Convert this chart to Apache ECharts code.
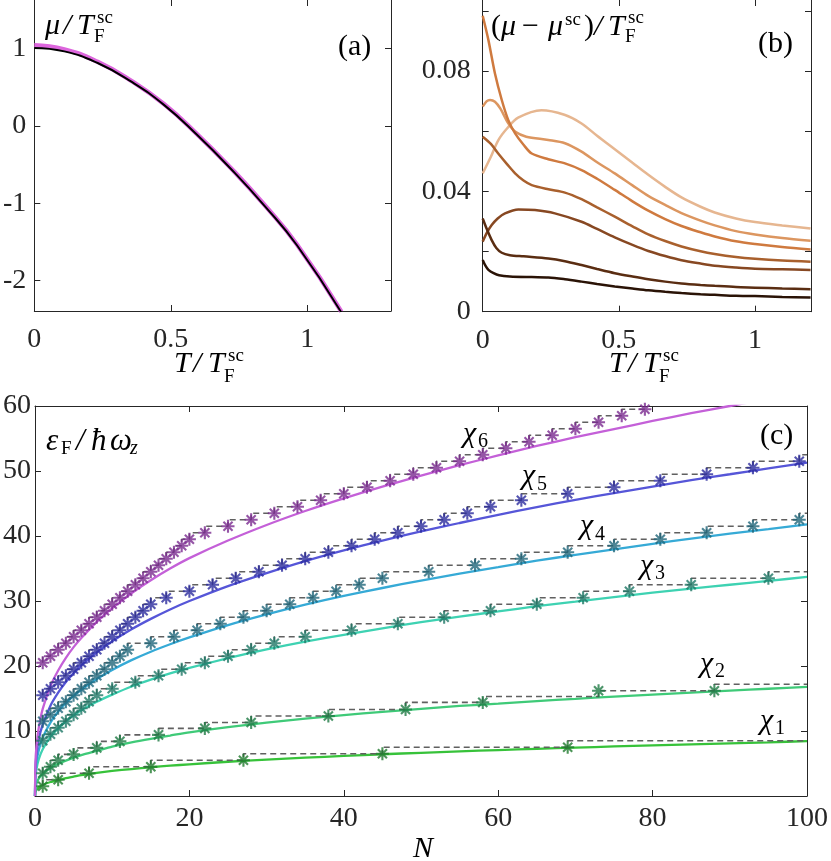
<!DOCTYPE html>
<html><head><meta charset="utf-8">
<script src="https://cdn.jsdelivr.net/npm/echarts@6.0.0/dist/echarts.min.js"></script>
<style>html,body{margin:0;padding:0;background:#fff}#chart{width:831px;height:861px}</style>
</head><body><div id="chart"></div>
<script>
// ---------- Panel (a): mu / T_F^sc vs T / T_F^sc ----------
const aT       = [0, 0.11, 0.232, 0.354, 0.475, 0.597, 0.719, 0.842, 0.963, 1.125];
const aBlack   = [1.01, 0.965, 0.814, 0.576, 0.273, -0.117, -0.55, -1.026, -1.545, -2.41];
const aMagenta = [1.045, 0.99, 0.83, 0.587, 0.283, -0.107, -0.54, -1.016, -1.535, -2.40];
const aXTicks = [0, 0.5, 1];
const aYTicks = [-2, -1, 0, 1];

// ---------- Panel (b): (mu - mu^sc)/T_F^sc, seven curves (light -> dark) ----------
const bPeach = [[0,0.046],[0.03,0.0515],[0.057,0.057],[0.09,0.061],[0.13,0.0645],[0.216,0.067],[0.3,0.0655],[0.363,0.0626],[0.42,0.0585],[0.485,0.054],[0.55,0.0495],[0.608,0.0455],[0.67,0.0415],[0.73,0.038],[0.8,0.0349],[0.852,0.033],[0.93,0.031],[1.0,0.0298],[1.1,0.0287],[1.204,0.0277]];
const bLightOrange = [[0,0.0682],[0.015,0.07],[0.027,0.0704],[0.045,0.0698],[0.065,0.0675],[0.094,0.0626],[0.12,0.0598],[0.16,0.0582],[0.241,0.0571],[0.302,0.056],[0.363,0.0532],[0.42,0.0497],[0.485,0.046],[0.55,0.042],[0.608,0.0385],[0.67,0.0355],[0.73,0.0328],[0.8,0.0303],[0.852,0.0287],[0.93,0.0268],[1.0,0.0257],[1.1,0.0245],[1.204,0.0236]];
const bOrange = [[0,0.0984],[0.021,0.0903],[0.045,0.0792],[0.07,0.0704],[0.094,0.0637],[0.119,0.0593],[0.15,0.0555],[0.18,0.0526],[0.241,0.0507],[0.302,0.0493],[0.363,0.0471],[0.42,0.0442],[0.485,0.0405],[0.55,0.0367],[0.608,0.0336],[0.67,0.0308],[0.73,0.0285],[0.8,0.0264],[0.852,0.025],[0.93,0.0234],[1.0,0.0225],[1.1,0.0215],[1.204,0.0207]];
const bBrownOrange = [[0,0.0582],[0.03,0.0558],[0.057,0.0526],[0.09,0.049],[0.119,0.046],[0.15,0.0436],[0.18,0.0421],[0.241,0.0407],[0.302,0.0396],[0.363,0.0374],[0.42,0.0347],[0.485,0.0316],[0.55,0.0284],[0.608,0.0257],[0.67,0.0235],[0.73,0.0217],[0.8,0.0201],[0.852,0.0192],[0.93,0.0182],[1.0,0.0176],[1.1,0.017],[1.204,0.0166]];
const bBrown = [[0,0.0233],[0.015,0.0262],[0.033,0.0288],[0.055,0.031],[0.082,0.0327],[0.131,0.034],[0.192,0.0338],[0.265,0.0327],[0.363,0.0299],[0.42,0.0275],[0.485,0.0247],[0.55,0.0222],[0.608,0.0202],[0.67,0.0185],[0.73,0.0171],[0.8,0.016],[0.852,0.0153],[0.93,0.0147],[1.0,0.0143],[1.1,0.0141],[1.204,0.0139]];
const bDarkBrown = [[0,0.031],[0.015,0.0275],[0.033,0.0238],[0.05,0.0212],[0.07,0.0196],[0.1,0.0188],[0.15,0.0184],[0.241,0.0177],[0.302,0.0168],[0.363,0.0155],[0.42,0.0142],[0.485,0.0128],[0.55,0.0117],[0.608,0.0108],[0.67,0.01],[0.73,0.0094],[0.8,0.0089],[0.852,0.0086],[0.93,0.0082],[1.0,0.008],[1.1,0.0077],[1.204,0.0075]];
const bDarkest = [[0,0.0172],[0.01,0.0153],[0.021,0.0139],[0.04,0.0128],[0.06,0.0121],[0.1,0.0117],[0.18,0.0115],[0.241,0.0114],[0.302,0.0108],[0.363,0.01],[0.42,0.0092],[0.485,0.0084],[0.55,0.0077],[0.608,0.0071],[0.67,0.0066],[0.73,0.0062],[0.8,0.0058],[0.852,0.0056],[0.93,0.0053],[1.0,0.0052],[1.1,0.0049],[1.204,0.0047]];
const bXTicks = [0, 0.5, 1];
const bYTicks = [0, 0.02, 0.04, 0.06, 0.08, 0.1];
const bYLabels = [0, 0.04, 0.08];

// ---------- Panel (c): eps_F / hbar omega_z vs N ----------
// stars (shell values)
const cN1 = [1,3,7,15,27,45,69];
const cE1 = [1.5,2.5,3.5,4.5,5.5,6.5,7.5];
const cN2 = [1,2,3,5,8,11,16,22,28,38,48,58,73,88];
const cE2 = [3.5,4.5,5.5,6.4,7.4,8.4,9.4,10.4,11.3,12.3,13.3,14.4,16.2,16.2];
const cN3 = [1,2,3,4,5,6,7,8,10,13,16,19,22,25,28,31,35,41,47,53,59,65,71,77,85,95];
const cE3 = [8.5,9.5,10.5,11.5,12.5,13.5,14.5,15.5,16.5,17.5,18.5,19.5,20.5,21.5,22.5,23.5,24.5,25.5,26.5,27.5,28.5,29.5,30.5,31.5,32.5,33.5];
const cN4 = [1,2,3,4,5,6,7,8,9,10,11,12,15,18,21,24,27,30,33,36,39,42,45,51,57,63,69,75,81,87,93,99];
const cE4 = [11.5,12.5,13.5,14.5,15.5,16.5,17.5,18.5,19.5,20.5,21.5,22.5,23.5,24.5,25.5,26.5,27.5,28.5,29.5,30.5,31.5,32.5,33.5,34.5,35.5,36.5,37.5,38.5,39.5,40.5,41.5,42.5];
const cN5 = [1,2,3,4,5,6,7,8,9,10,11,12,13,14,15,17,20,23,26,29,32,35,38,41,44,47,50,53,56,59,63,69,75,81,87,93,99];
const cE5 = [15.5,16.5,17.5,18.5,19.5,20.5,21.5,22.5,23.5,24.5,25.5,26.5,27.5,28.5,29.5,30.5,31.5,32.5,33.5,34.5,35.5,36.5,37.5,38.5,39.5,40.5,41.5,42.5,43.5,44.5,45.5,46.5,47.5,48.5,49.5,50.5,51.5];
const cN6 = [1,2,3,4,5,6,7,8,9,10,11,12,13,14,15,16,17,18,19,20,22,25,28,31,34,37,40,43,46,49,52,55,58,61,64,67,70,73,76,79];
const cE6 = [20.5,21.5,22.5,23.5,24.5,25.5,26.5,27.5,28.5,29.5,30.5,31.5,32.5,33.5,34.5,35.5,36.5,37.5,38.5,39.5,40.5,41.5,42.5,43.5,44.5,45.5,46.5,47.5,48.5,49.5,50.5,51.5,52.5,53.5,54.5,55.5,56.5,57.5,58.5,59.5];
// dashed staircase (level after the last star, up to N = 100)
const cTail1 = 8.5, cTail3 = 34.5, cTail4 = 43.5, cTail5 = 52.5;
const cDashN2 = [1,2,3,5,8,11,16,22,28,38,48,58,73,88,100];
const cDashE2 = [3.5,4.5,5.5,6.4,7.4,8.4,9.4,10.4,11.3,12.3,13.3,14.4,15.3,16.2,17.2];
// smooth curves
const cSolidN = [0,0.05,0.2,0.5,1,2,3,4,5,6,8,10,12.5,15,17.5,20,25,30,35,40,45,50,55,60,65,70,75,80,85,90,95,100];
const cSolid1 = [0,0.6,0.95,1.35,1.7,2.15,2.45,2.75,2.97,3.2,3.55,3.85,4.15,4.42,4.66,4.88,5.27,5.6,5.9,6.16,6.42,6.65,6.87,7.07,7.26,7.44,7.62,7.78,7.94,8.09,8.25,8.45];
const cSolid2 = [0,1.2,1.95,2.7,3.4,4.3,4.95,5.45,5.9,6.3,6.95,7.6,8.25,8.8,9.3,9.8,10.6,11.3,11.9,12.45,12.95,13.4,13.85,14.2,14.6,14.95,15.3,15.6,15.9,16.2,16.5,16.8];
const cSolid3 = [0,2.6,4.2,5.7,7.2,9.1,10.4,11.5,12.4,13.2,14.5,15.6,16.85,17.9,18.85,19.7,21.2,22.55,23.75,24.8,25.8,26.75,27.6,28.4,29.2,29.9,30.6,31.3,31.9,32.5,33.1,33.7];
const cSolid4 = [0,3.3,5.3,7.1,9.0,11.3,13.0,14.3,15.4,16.35,18.0,19.4,20.9,22.2,23.35,24.4,26.3,27.95,29.45,30.8,32.0,33.15,34.2,35.2,36.2,37.1,37.95,38.8,39.6,40.35,41.05,41.8];
const cSolid5 = [0,4.1,6.5,8.8,11.0,13.9,15.9,17.55,18.9,20.1,22.1,23.8,25.65,27.25,28.7,30.0,32.3,34.3,36.15,37.8,39.3,40.7,42.0,43.25,44.45,45.55,46.6,47.6,48.6,49.5,50.4,51.3];
const cSolid6 = [0,4.9,7.8,10.6,13.4,16.9,19.3,21.25,22.9,24.3,26.8,28.9,31.2,33.2,35.0,36.6,39.3,41.7,43.85,45.8,47.6,49.3,50.9,52.4,53.85,55.2,56.45,57.7,58.9,60.0,61.1,62.15];
const cXTicks = [0,20,40,60,80,100];
const cYTicks = [0,10,20,30,40,50,60];
const cYLabels = [10,20,30,40,50,60];

// ---------- styling ----------
const SERIF = "Liberation Serif, Times New Roman, serif";
const AX = '#262626';
const STAR = 'path://M10,0L10,20M0,10L20,10M3,3L17,17M3,17L17,3';
const bColors = ['#e6b690','#dc9660','#cf7a3f','#a9602d','#874822','#5a2d12','#2a1306'];
const cSolidColors = ['#37c23a','#3fca78','#3ed2b2','#36aad6','#5656d8','#c460d8'];
const cStarColors  = ['#217a2e','#1f7a45','#1f7866','#20667a','#2c2c9e','#7b2a90'];

function zip(xs, ys) { return ys.map((y, i) => [xs[i], y]); }
function fmt(v) { return String(+v.toFixed(4)); }

function xAxisPair(grid, min, max, ticks, margin, showTopLine) {
  return [
    {gridIndex: grid, type: 'value', min, max, position: 'bottom',
     axisLine: {show: true, onZero: false, lineStyle: {color: AX, width: 1}},
     axisTick: {show: true, inside: true, length: 6, customValues: ticks, lineStyle: {color: AX}},
     axisLabel: {show: true, customValues: ticks, margin, color: AX, fontFamily: SERIF, fontSize: 28, formatter: fmt},
     splitLine: {show: false}},
    {gridIndex: grid, type: 'value', min, max, position: 'top',
     axisLine: {show: showTopLine, onZero: false, lineStyle: {color: AX, width: 1}},
     axisTick: {show: true, inside: true, length: 6, customValues: ticks, lineStyle: {color: AX}},
     axisLabel: {show: false}, splitLine: {show: false}}
  ];
}
function yAxisPair(grid, min, max, ticks, labels, margin) {
  return [
    {gridIndex: grid, type: 'value', min, max, position: 'left',
     axisLine: {show: true, onZero: false, lineStyle: {color: AX, width: 1}},
     axisTick: {show: true, inside: true, length: 6, customValues: ticks, lineStyle: {color: AX}},
     axisLabel: {show: true, customValues: labels, margin, color: AX, fontFamily: SERIF, fontSize: 28, formatter: fmt},
     splitLine: {show: false}},
    {gridIndex: grid, type: 'value', min, max, position: 'right',
     axisLine: {show: true, onZero: false, lineStyle: {color: AX, width: 1}},
     axisTick: {show: true, inside: true, length: 6, customValues: ticks, lineStyle: {color: AX}},
     axisLabel: {show: false}, splitLine: {show: false}}
  ];
}

const series = [];
// (a)
series.push({type: 'line', xAxisIndex: 0, yAxisIndex: 0, data: zip(aT, aMagenta), smooth: true, symbol: 'none',
  lineStyle: {color: '#dd66dd', width: 4.5}});
series.push({type: 'line', xAxisIndex: 0, yAxisIndex: 0, data: zip(aT, aBlack), smooth: true, symbol: 'none',
  lineStyle: {color: '#000000', width: 2}});
// (b)
[bPeach, bLightOrange, bOrange, bBrownOrange, bBrown, bDarkBrown, bDarkest].forEach((d, i) => {
  series.push({type: 'line', xAxisIndex: 2, yAxisIndex: 2, data: d, smooth: 0.3, symbol: 'none',
    lineStyle: {color: bColors[i], width: 2.5}});
});
// (c)
const cStarsN = [cN1, cN2, cN3, cN4, cN5, cN6];
const cStarsE = [cE1, cE2, cE3, cE4, cE5, cE6];
const cSolids = [cSolid1, cSolid2, cSolid3, cSolid4, cSolid5, cSolid6];
const cTails = [cTail1, null, cTail3, cTail4, cTail5, null];
for (let k = 0; k < 6; k++) {
  series.push({type: 'line', xAxisIndex: 4, yAxisIndex: 4, data: zip(cSolidN, cSolids[k]), smooth: 0.2,
    symbol: 'none', lineStyle: {color: cSolidColors[k], width: 2.3}, z: 2});
  let dash;
  if (k === 1) dash = zip(cDashN2, cDashE2);
  else {
    dash = zip(cStarsN[k], cStarsE[k]);
    if (cTails[k] !== null) dash.push([100, cTails[k]]);
  }
  series.push({type: 'line', xAxisIndex: 4, yAxisIndex: 4, data: dash, step: 'start', symbol: 'none',
    lineStyle: {color: '#606060', width: 1.6, type: [6, 4]}, z: 3});
  series.push({type: 'scatter', xAxisIndex: 4, yAxisIndex: 4, data: zip(cStarsN[k], cStarsE[k]),
    symbol: STAR, symbolSize: 13,
    itemStyle: {color: 'rgba(0,0,0,0)', borderColor: cStarColors[k], borderWidth: 2.1}, z: 4});
}

// text helpers (positions in pixels)
function txt(x, y, text, size, italic) {
  return {type: 'text', x, y, z: 100, silent: true,
    style: {text, font: (italic ? 'italic ' : '') + size + 'px "Liberation Serif"', fill: '#000',
            align: 'left', verticalAlign: 'middle'}};
}
const graphic = [
  // (a) y label  mu/T_F^sc
  txt(45, 26, 'μ', 30, true), txt(63, 26, '/', 30, true), txt(77, 26, 'T', 30, true),
  txt(97, 18, 'sc', 19, false), txt(94, 37, 'F', 19, false),
  txt(338, 47, '(a)', 30, false),
  // (a) x label
  txt(174, 364, 'T', 30, true), txt(193, 364, '/', 30, true), txt(208, 364, 'T', 30, true),
  txt(228, 356, 'sc', 19, false), txt(224, 377, 'F', 19, false),
  // (b) y label  (mu - mu^sc)/T_F^sc
  txt(491, 27, '(', 30, false), txt(501, 27, 'μ', 30, true), txt(522, 27, '−', 30, false),
  txt(548, 27, 'μ', 30, true), txt(565, 20, 'sc', 19, false), txt(584, 27, ')', 30, false),
  txt(594, 27, '/', 30, true), txt(608, 27, 'T', 30, true), txt(628, 18, 'sc', 19, false), txt(625, 37, 'F', 19, false),
  txt(758, 44, '(b)', 30, false),
  // (b) x label
  txt(609, 364, 'T', 30, true), txt(628, 364, '/', 30, true), txt(643, 364, 'T', 30, true),
  txt(663, 356, 'sc', 19, false), txt(659, 377, 'F', 19, false),
  // (c) y label  eps_F / hbar omega_z
  txt(46, 442, 'ε', 31, true), txt(61, 449, 'F', 19, false), txt(76, 442, '/', 31, true),
  txt(91, 442, 'ħ', 31, true), txt(110, 442, 'ω', 31, true), txt(130, 449, 'z', 20, true),
  txt(760, 436, '(c)', 30, false),
  // (c) x label
  txt(413, 849, 'N', 30, true),
  // chi labels
  txt(463, 434, 'χ', 30, true), txt(478, 442, '6', 20, false),
  txt(522, 476, 'χ', 30, true), txt(537, 485, '5', 20, false),
  txt(580, 526, 'χ', 30, true), txt(595, 535, '4', 20, false),
  txt(640, 566, 'χ', 30, true), txt(655, 574, '3', 20, false),
  txt(700, 664, 'χ', 30, true), txt(715, 672, '2', 20, false),
  txt(760, 721, 'χ', 30, true), txt(775, 729, '1', 20, false)
];

const option = {
  animation: false,
  backgroundColor: '#ffffff',
  textStyle: {fontFamily: SERIF},
  grid: [
    {left: 33.3, top: 0, width: 357.7, height: 311},
    {left: 482.7, top: 0, width: 328.3, height: 311.7},
    {left: 33.4, top: 406, width: 777.6, height: 390}
  ],
  xAxis: [].concat(
    xAxisPair(0, 0, 1.307, aXTicks, 15, false),
    xAxisPair(1, 0, 1.2056, bXTicks, 15, false),
    xAxisPair(2, 0, 100, cXTicks, 9, true)
  ),
  yAxis: [].concat(
    yAxisPair(0, -2.392, 1.629, aYTicks, aYTicks, 8),
    yAxisPair(1, 0, 0.10364, bYTicks, bYLabels, 12),
    yAxisPair(2, 0, 60, cYTicks, cYLabels, 4)
  ),
  series,
  graphic
};
const chart = echarts.init(document.getElementById('chart'), null, {renderer: 'canvas'});
chart.setOption(option);
</script>
</body></html>
